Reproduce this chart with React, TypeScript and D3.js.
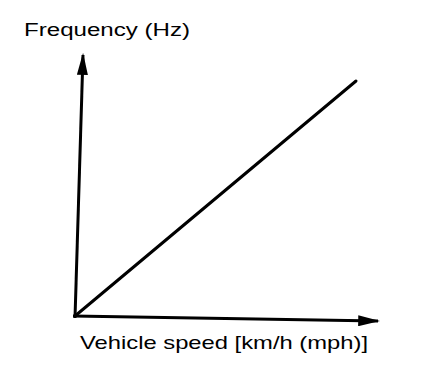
import * as d3 from "d3";
import { useEffect, useRef } from "react";

// values of the relation (arbitrary units, proportional)
const speed = [0, 100];
const frequency = [0, 100];
const xTitle = "Vehicle speed [km/h (mph)]";
const yTitle = "Frequency (Hz)";

export default function App() {
  const ref = useRef<SVGSVGElement>(null);

  useEffect(() => {
    if (!ref.current) return;
    const svg = d3.select(ref.current);
    svg.selectAll("*").remove();

    const width = 432,
      height = 372;
    svg.attr("width", width).attr("height", height);

    svg.append("rect").attr("width", width).attr("height", height).attr("fill", "#fff");

    const x = d3.scaleLinear().domain([0, 100]).range([75, 356]);
    const y = d3.scaleLinear().domain([0, 100]).range([316, 81]);

    const defs = svg.append("defs");
    defs
      .append("marker")
      .attr("id", "arrow")
      .attr("viewBox", "0 0 10 10")
      .attr("refX", 9)
      .attr("refY", 5)
      .attr("markerUnits", "userSpaceOnUse")
      .attr("markerWidth", 22)
      .attr("markerHeight", 11)
      .attr("orient", "auto")
      .attr("preserveAspectRatio", "none")
      .append("path")
      .attr("d", "M0,0 L10,5 L0,10 Z")
      .attr("fill", "#000");

    // axes (hand drawn, slightly skewed)
    const axis = d3.line();
    svg
      .append("path")
      .attr("d", axis([[75, 318], [83, 55]]))
      .attr("stroke", "#000")
      .attr("stroke-width", 3)
      .attr("fill", "none")
      .attr("marker-end", "url(#arrow)");

    svg
      .append("path")
      .attr("d", axis([[73, 316], [378, 321]]))
      .attr("stroke", "#000")
      .attr("stroke-width", 3)
      .attr("fill", "none")
      .attr("marker-end", "url(#arrow)");

    // relation line
    const data = speed.map((s, i) => [s, frequency[i]] as [number, number]);
    svg
      .append("path")
      .datum(data)
      .attr("fill", "none")
      .attr("stroke", "#000")
      .attr("stroke-width", 3)
      .attr("stroke-linecap", "round")
      .attr(
        "d",
        d3
          .line<[number, number]>()
          .x((d) => x(d[0]))
          .y((d) => y(d[1]))
      );

    svg
      .append("text")
      .attr("x", 24)
      .attr("y", 36)
      .attr("font-family", "'Liberation Sans', Arial, sans-serif")
      .attr("font-size", 18)
      .attr("textLength", 166)
      .attr("lengthAdjust", "spacingAndGlyphs")
      .attr("fill", "#000")
      .text(yTitle);

    svg
      .append("text")
      .attr("x", 80)
      .attr("y", 349)
      .attr("font-family", "'Liberation Sans', Arial, sans-serif")
      .attr("font-size", 19)
      .attr("textLength", 288)
      .attr("lengthAdjust", "spacingAndGlyphs")
      .attr("fill", "#000")
      .text(xTitle);
  }, []);

  return <svg ref={ref} style={{ position: "absolute", left: 0, top: 0 }} />;
}
